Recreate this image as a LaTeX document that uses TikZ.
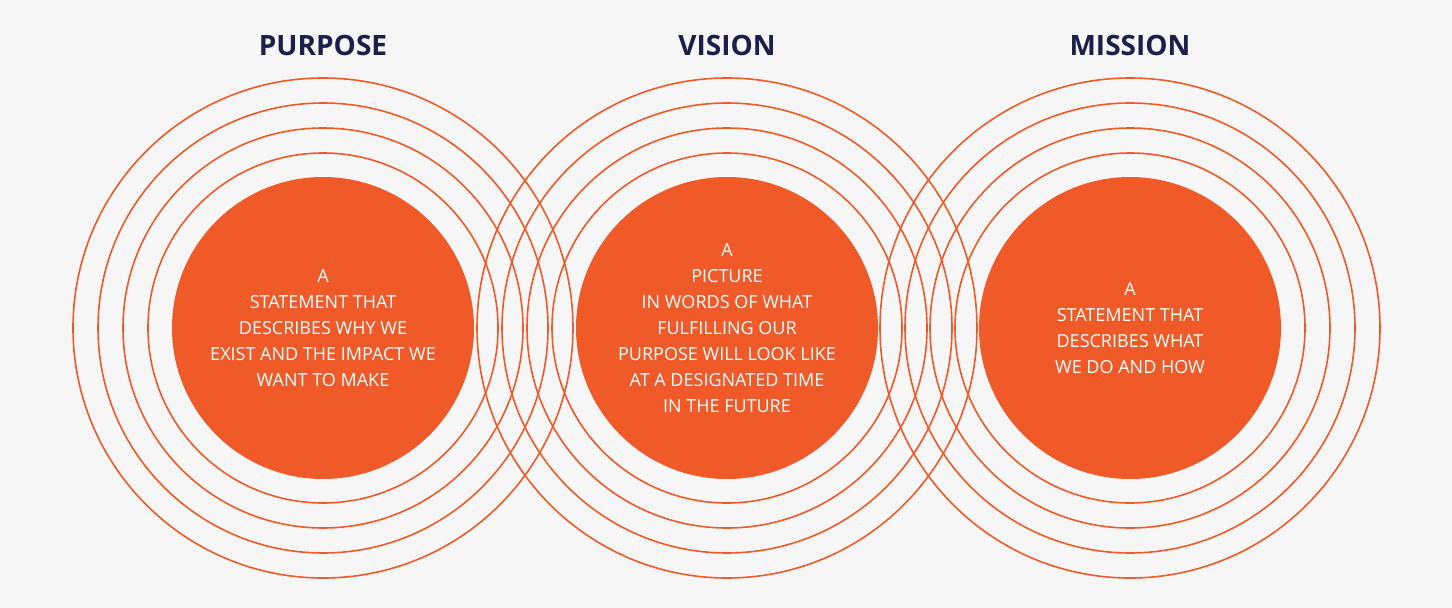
\documentclass[tikz,border=0pt]{standalone}
\usepackage{fontspec}
\setmainfont{Open Sans}
\definecolor{bg}{HTML}{F6F6F6}
\definecolor{org}{HTML}{F05A28}
\definecolor{navy}{HTML}{1B1F4A}
\begin{document}
\begin{tikzpicture}[x=1pt,y=-1pt,
  ring/.style={draw=org,line width=1.6pt},
  core/.style={circle,fill=org,minimum size=302pt,inner sep=0pt},
  body/.style={text=white,align=center,font=\fontsize{18}{26}\selectfont\addfontfeatures{Weight=300}},
  title/.style={text=navy,font=\fontsize{28}{32}\selectfont\bfseries}]
\fill[bg] (0,0) rectangle (1452,608);
\useasboundingbox (0,0) rectangle (1452,608);
\foreach \cx in {323,727,1130}{
  \foreach \r in {175,200,225,250}{\draw[ring] (\cx,328) circle (\r);}
}
\node[core] (p) at (323,328) {};
\node[core] (v) at (727,328) {};
\node[core] (m) at (1130,328) {};
\node[body] (pt) at (323,328) {A\\STATEMENT THAT\\DESCRIBES WHY WE\\EXIST AND THE IMPACT WE\\WANT TO MAKE};
\node[body] (vt) at (727,328) {A\\PICTURE\\IN WORDS OF WHAT\\FULFILLING OUR\\PURPOSE WILL LOOK LIKE\\AT A DESIGNATED TIME\\IN THE FUTURE};
\node[body] (mt) at (1130,328) {A\\STATEMENT THAT\\DESCRIBES WHAT\\WE DO AND HOW};
\node[title] (ph) at (323,45) {PURPOSE};
\node[title] (vh) at (727,45) {VISION};
\node[title] (mh) at (1130,45) {MISSION};
\end{tikzpicture}
\end{document}
